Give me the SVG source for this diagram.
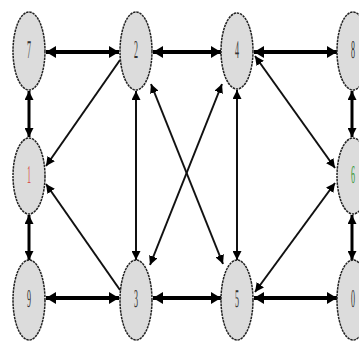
<svg xmlns="http://www.w3.org/2000/svg" width="359" height="341" viewBox="0 0 359 341">
<style>
.node ellipse{fill:#dcdcdc;stroke:#222;stroke-width:1.5;stroke-dasharray:2.5 0.8}
.node text{font-family:"Liberation Serif",serif;font-size:16px;fill:#333;text-anchor:middle;dominant-baseline:central;text-rendering:geometricPrecision}
.thick{stroke:#000;stroke-width:4;fill:none}
.mid{stroke:#000;stroke-width:3;fill:none}
.thin{stroke:#111;stroke-width:2;fill:none}
</style>
<defs>
<marker id="ah" markerUnits="userSpaceOnUse" markerWidth="10" markerHeight="12" refX="10" refY="6" orient="auto-start-reverse"><path d="M0,0 L10,6 L0,12 z" fill="#000"/></marker>
<marker id="as" markerUnits="userSpaceOnUse" markerWidth="9" markerHeight="9" refX="9" refY="4.5" orient="auto-start-reverse"><path d="M0,0 L9,4.5 L0,9 z" fill="#000"/></marker>
</defs>
<rect width="359" height="341" fill="#fff"/>
<g id="connectors">
<line class="thick" x1="46" y1="52" x2="119" y2="52" marker-start="url(#ah)" marker-end="url(#ah)"/>
<line class="thick" x1="153" y1="52" x2="221" y2="52" marker-start="url(#ah)" marker-end="url(#ah)"/>
<line class="thick" x1="254" y1="52" x2="337" y2="52" marker-start="url(#ah)" marker-end="url(#ah)"/>
<line class="thick" x1="46" y1="298" x2="119" y2="298" marker-start="url(#ah)" marker-end="url(#ah)"/>
<line class="thick" x1="153" y1="298" x2="221" y2="298" marker-start="url(#ah)" marker-end="url(#ah)"/>
<line class="thick" x1="254" y1="298" x2="337" y2="298" marker-start="url(#ah)" marker-end="url(#ah)"/>
<line class="mid" x1="29" y1="91" x2="29" y2="137" marker-start="url(#as)" marker-end="url(#as)"/>
<line class="mid" x1="29" y1="215" x2="29" y2="260" marker-start="url(#as)" marker-end="url(#as)"/>
<line class="mid" x1="352" y1="91" x2="352" y2="137" marker-start="url(#as)" marker-end="url(#as)"/>
<line class="mid" x1="352" y1="215" x2="352" y2="260" marker-start="url(#as)" marker-end="url(#as)"/>
<line class="thin" x1="136" y1="91" x2="136" y2="260" marker-start="url(#as)" marker-end="url(#as)"/>
<line class="thin" x1="237" y1="90" x2="237" y2="260" marker-start="url(#as)" marker-end="url(#as)"/>
<line class="thin" x1="120" y1="60" x2="46" y2="166" marker-end="url(#as)"/>
<line class="thin" x1="120" y1="290" x2="46" y2="184" marker-end="url(#as)"/>
<line class="thin" x1="151" y1="84" x2="223" y2="264" marker-start="url(#as)" marker-end="url(#as)"/>
<line class="thin" x1="222" y1="84" x2="150" y2="265" marker-start="url(#as)" marker-end="url(#as)"/>
<line class="thin" x1="255" y1="56" x2="335" y2="168" marker-start="url(#as)" marker-end="url(#as)"/>
<line class="thin" x1="255" y1="292" x2="335" y2="183" marker-start="url(#as)" marker-end="url(#as)"/>
</g>
<g id="n7" class="node"><ellipse cx="29" cy="51" rx="16" ry="39"/><text transform="translate(29,51) scale(0.5,1.6)">7</text></g>
<g id="n2" class="node"><ellipse cx="136" cy="51" rx="16" ry="39"/><text transform="translate(136,51) scale(0.5,1.6)">2</text></g>
<g id="n4" class="node"><ellipse cx="237" cy="51" rx="16" ry="38"/><text transform="translate(237,51) scale(0.5,1.6)">4</text></g>
<g id="n8" class="node"><ellipse cx="353" cy="51" rx="16" ry="39"/><text transform="translate(353,51) scale(0.5,1.6)">8</text></g>
<g id="n1" class="node"><ellipse cx="29" cy="176" rx="16" ry="38"/><text transform="translate(29,176) scale(0.5,1.6)" style="fill:#d9534f">1</text></g>
<g id="n6" class="node"><ellipse cx="353" cy="176" rx="16" ry="38"/><text transform="translate(353,176) scale(0.5,1.6)" style="fill:#3a9a3a">6</text></g>
<g id="n9" class="node"><ellipse cx="29" cy="300" rx="16" ry="40"/><text transform="translate(29,300) scale(0.5,1.6)">9</text></g>
<g id="n3" class="node"><ellipse cx="136" cy="300" rx="16" ry="40"/><text transform="translate(136,300) scale(0.5,1.6)">3</text></g>
<g id="n5" class="node"><ellipse cx="237" cy="300" rx="16" ry="40"/><text transform="translate(237,300) scale(0.5,1.6)">5</text></g>
<g id="n0" class="node"><ellipse cx="353" cy="300" rx="16" ry="40"/><text transform="translate(353,300) scale(0.5,1.6)">0</text></g>
</svg>
